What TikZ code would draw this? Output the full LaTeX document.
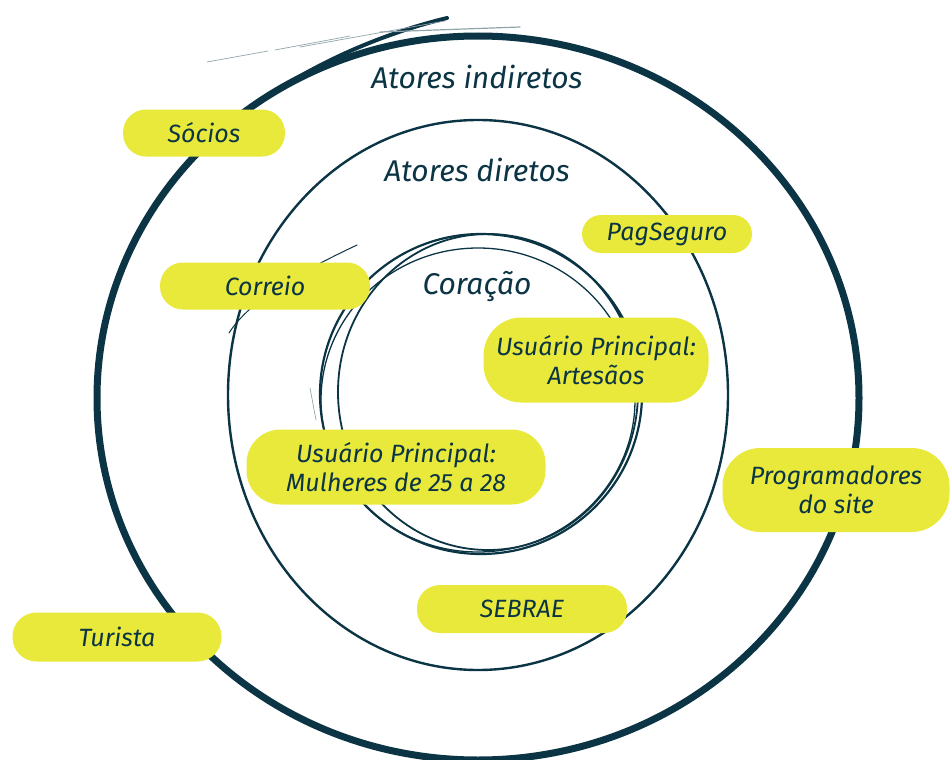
\documentclass[tikz,border=0pt]{standalone}
\usepackage{fontspec}
\setmainfont{Fira Sans}
\definecolor{ink}{HTML}{0B3444}
\definecolor{hl}{HTML}{E9E93B}
\begin{document}
\begin{tikzpicture}[x=1pt,y=-1pt,
  pill/.style={fill=hl, text=ink, inner sep=0pt, align=center,
    font=\itshape\fontsize{25}{29}\selectfont},
  ringlabel/.style={text=ink, font=\itshape\fontsize{30}{34}\selectfont},
  ring/.style={draw=ink, line cap=round},
  faint/.style={draw=ink!45, line width=0.7pt, line cap=round}]
\useasboundingbox (0,0) rectangle (951,760);
\begin{scope}
\clip (0,0) rectangle (951,760);
% outer ring
\draw[ring, line width=7pt] (478,398) ellipse [x radius=381, y radius=362];
\draw[ring, line width=4pt] (247,110) .. controls (320,58) and (390,32) .. (447,18);
\draw[faint] (207,62) -- (268,51);
\draw[faint] (275,50) -- (350,36);
\draw[faint] (300,47) -- (445,21);
\draw[faint, line width=1.2pt] (380,32) -- (520,27);
% middle ring
\draw[ring, line width=2.4pt] (478,395) ellipse [x radius=250, y radius=275];
% inner ring (several strokes)
\draw[ring, line width=2.2pt] (481,394) ellipse [x radius=161, y radius=160];
\draw[ring, line width=1.8pt] (488,392) ellipse [x radius=150, y radius=158];
\draw[ring, line width=1.3pt] (478,400) ellipse [x radius=157, y radius=152];
\draw[ring, line width=1pt] (357,245) .. controls (300,272) and (250,300) .. (229,333);
\draw[faint] (310,388) -- (316,420);
\end{scope}
% ring labels
\node[ringlabel] (lindir) at (477,77) {Atores indiretos};
\node[ringlabel] (ldir) at (477,170) {Atores diretos};
\node[ringlabel] (lcor) at (477,287) {Coração};
% pills
\node[pill, minimum width=162pt, minimum height=47pt, rounded corners=23pt] (socios) at (204,133) {Sócios};
\node[pill, minimum width=210pt, minimum height=47pt, rounded corners=23pt] (correio) at (265,286) {Correio};
\node[pill, minimum width=170pt, minimum height=38pt, rounded corners=19pt] (pagseguro) at (667,234) {PagSeguro};
\node[pill, minimum width=225pt, minimum height=85pt, rounded corners=38pt] (artesaos) at (596,360) {Usuário Principal:\\Artesãos};
\node[pill, minimum width=299pt, minimum height=75pt, rounded corners=34pt] (mulheres) at (396,467) {Usuário Principal:\\Mulheres de 25 a 28};
\node[pill, minimum width=227pt, minimum height=84pt, rounded corners=38pt] (program) at (836,490) {Programadores\\do site};
\node[pill, minimum width=210pt, minimum height=48pt, rounded corners=23pt] (sebrae) at (522,609) {SEBRAE};
\node[pill, minimum width=209pt, minimum height=49pt, rounded corners=24pt] (turista) at (117,637) {Turista};
\end{tikzpicture}
\end{document}
